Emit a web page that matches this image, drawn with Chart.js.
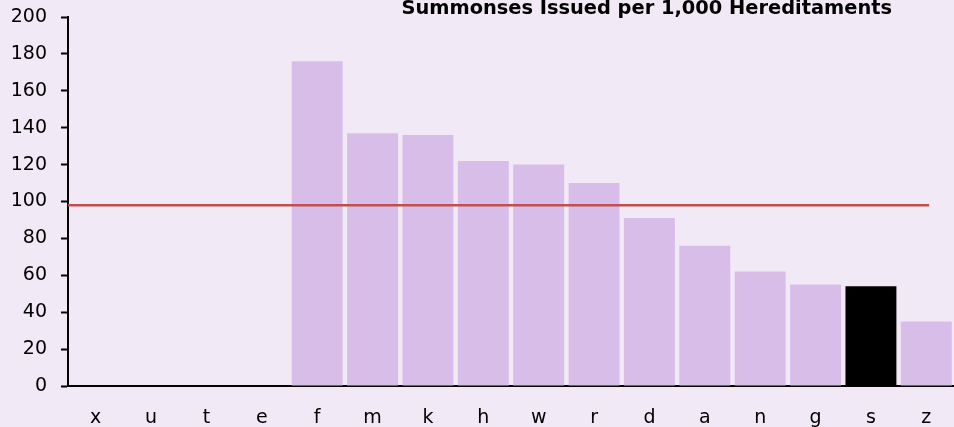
<!DOCTYPE html>
<html lang="en">
<head>
    <meta charset="UTF-8">
    <title>Summonses Issued per 1,000 Hereditaments</title>
    <script src="https://cdn.jsdelivr.net/npm/chart.js"></script>
    <style>
        html, body {
            margin: 0;
            padding: 0;
            background-color: #f1e9f6;
        }
        .wrap {
            width: 954px;
            height: 427px;
        }
    </style>
</head>
<body>
    <div class="wrap">
        <canvas id="summonsChart"></canvas>
    </div>

    <script>
        const categories = ['x', 'u', 't', 'e', 'f', 'm', 'k', 'h', 'w', 'r', 'd', 'a', 'n', 'g', 's', 'z'];
        const summonses = [null, null, null, null, 176, 137, 136, 122, 120, 110, 91, 76, 62, 55, 54, 35];
        const highlighted = ['s'];
        const average = 98;
        const averageFrom = -0.5;
        const averageTo = 15.05;
        const yTicks = [0, 20, 40, 60, 80, 100, 120, 140, 160, 180, 200];
        const chartTitle = 'Summonses Issued per 1,000 Hereditaments';

        const barColours = categories.map(c => highlighted.includes(c) ? '#000000' : '#d9bde9');

        // title sits over the top right of the plot, not above it
        const titlePlugin = {
            id: 'cornerTitle',
            afterDraw(chart) {
                const ctx = chart.ctx;
                ctx.save();
                ctx.font = 'bold 19.4px "DejaVu Sans"';
                ctx.fillStyle = '#000';
                ctx.textAlign = 'right';
                ctx.textBaseline = 'alphabetic';
                ctx.fillText(chartTitle, chart.chartArea.right - 62, 14);
                ctx.restore();
            }
        };

        new Chart(document.getElementById('summonsChart'), {
            type: 'bar',
            data: {
                labels: categories,
                datasets: [{
                    data: summonses,
                    backgroundColor: barColours,
                    borderWidth: 0,
                    grouped: false,
                    categoryPercentage: 1,
                    barPercentage: 0.92,
                    order: 1
                }, {
                    type: 'line',
                    data: [{ x: averageFrom, y: average }, { x: averageTo, y: average }],
                    xAxisID: 'x2',
                    borderColor: '#c0504d',
                    borderWidth: 2.5,
                    pointRadius: 0,
                    fill: false,
                    order: 0
                }]
            },
            options: {
                responsive: true,
                maintainAspectRatio: false,
                animation: false,
                layout: { padding: { top: 17, right: 0, left: 0, bottom: 0 } },
                plugins: {
                    legend: { display: false },
                    tooltip: { enabled: false }
                },
                scales: {
                    x: {
                        grid: { display: false },
                        border: { display: true, color: '#000', width: 2 },
                        ticks: {
                            color: '#000',
                            padding: 13,
                            font: { family: 'DejaVu Sans', size: 19 }
                        },
                        afterFit: s => { s.height = 41; }
                    },
                    x2: {
                        type: 'linear',
                        display: false,
                        offset: false,
                        min: -0.5,
                        max: categories.length - 0.5
                    },
                    y: {
                        min: 0,
                        max: 200,
                        afterBuildTicks: s => { s.ticks = yTicks.map(v => ({ value: v })); },
                        grid: { drawOnChartArea: false, color: '#000', tickLength: 7, tickWidth: 2 },
                        border: { color: '#000', width: 2 },
                        ticks: {
                            color: '#000',
                            padding: 14,
                            font: { family: 'DejaVu Sans', size: 19 }
                        },
                        afterFit: s => {
                            s.width = 68;
                            s.paddingTop = 0;
                            s.paddingBottom = 0;
                        }
                    }
                }
            },
            plugins: [titlePlugin]
        });
    </script>
</body>
</html>
